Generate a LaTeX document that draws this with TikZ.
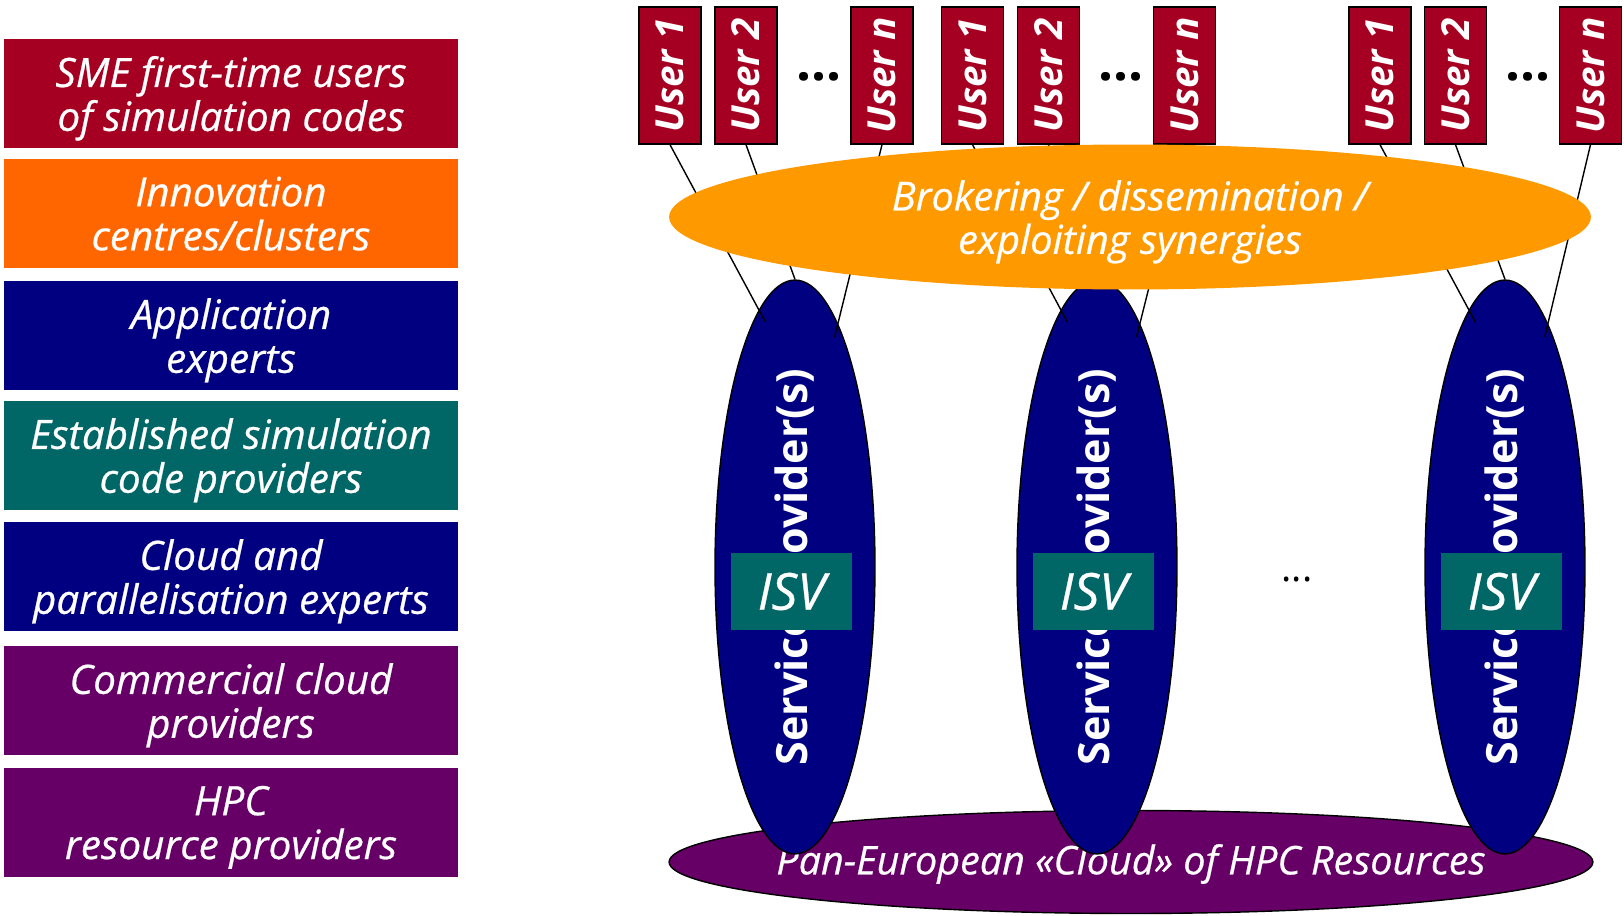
\documentclass[tikz,border=0pt]{standalone}
\usepackage{fontspec}
\setmainfont{Open Sans}[ItalicFeatures={FakeBold=0.6}]
\usetikzlibrary{shapes.geometric}

\definecolor{smered}{HTML}{A50021}
\definecolor{innoorange}{HTML}{FF6600}
\definecolor{appnavy}{HTML}{000080}
\definecolor{codeteal}{HTML}{006666}
\definecolor{hpcpurple}{HTML}{660066}
\definecolor{brokerorange}{HTML}{FF9900}

\tikzset{
	groupbox/.style={fill=#1, text=white, minimum width=9.08cm, minimum height=2.18cm, inner sep=0pt, align=center, text depth=0pt, font=\fontsize{23}{25}\selectfont\itshape},
	userbox/.style={draw=black, line width=0.8pt, fill=smered, text=white, minimum width=1.24cm, minimum height=2.74cm, inner sep=0pt, font=\fontsize{22}{24}\selectfont\bfseries\itshape},
	spellipse/.style={ellipse, draw=black, line width=0.8pt, fill=appnavy, minimum width=3.2cm, minimum height=11.48cm, inner sep=0pt},
	isvbox/.style={fill=codeteal, text=white, minimum width=2.42cm, minimum height=1.54cm, inner sep=0pt, font=\fontsize{29}{30}\selectfont\itshape},
	userdots/.style={inner sep=0pt, font=\fontsize{30}{30}\selectfont\bfseries},
	link/.style={line width=0.8pt}
}

\begin{document}
\begin{tikzpicture}[x=0.02cm, y=-0.02cm]
	\useasboundingbox (0,0) rectangle (1624,916);
	% the seven groups
	\node[groupbox=smered] (sme) at (231,93.5) {SME first-time users\\of simulation codes};
	\node[groupbox=innoorange] (inno) at (231,213.5) {Innovation\\centres/clusters};
	\node[groupbox=appnavy] (app) at (231,335.5) {Application\\experts};
	\node[groupbox=codeteal] (codes) at (231,455.5) {Established simulation\\code providers};
	\node[groupbox=appnavy] (par) at (231,576.5) {Cloud and\\parallelisation experts};
	\node[groupbox=hpcpurple] (comm) at (231,700.5) {Commercial cloud\\providers};
	\node[groupbox=hpcpurple] (hpc) at (231,822.5) {HPC\\resource providers};
	% cloud of resources
	\node[ellipse, draw=black, line width=0.8pt, fill=hpcpurple, minimum width=18.48cm, minimum height=2.06cm, inner sep=0pt] (pan) at (1131,862) {};
	\node[text=white, font=\fontsize{22.5}{24}\selectfont\itshape] (pan-label) at (1131,864) {Pan-European «Cloud» of HPC Resources};
	% service providers
	\foreach \g/\x in {1/795,2/1097,3/1505} {
		\node[spellipse] (sp\g) at (\x,567) {};
		\node[text=white, rotate=90, font=\fontsize{24.5}{26}\selectfont\bfseries] (sp\g-label) at (sp\g) {Service Provider(s)};
	}
	\node[isvbox] (isv1) at (791.5,591.5) {ISV};
	\node[isvbox] (isv2) at (1093.5,591.5) {ISV};
	\node[isvbox] (isv3) at (1501.5,591.5) {ISV};
	\node[inner sep=0pt, font=\fontsize{22}{24}\selectfont] (middots) at (1297,579) {...};
	% users
	\foreach \g/\a/\b/\n/\d in {1/670/746/882/819, 2/972.5/1048.5/1184.5/1121, 3/1380/1455.5/1590.5/1528} {
		\node[userbox] (u\g-1) at (\a,75.5) {\rotatebox{90}{User 1}};
		\node[userbox] (u\g-2) at (\b,75.5) {\rotatebox{90}{User 2}};
		\node[userbox] (u\g-n) at (\n,75.5) {\rotatebox{90}{User n}};
		\node[userdots] (dots\g) at (\d,76.5) {...};
	}
	\foreach \g in {1,2,3} {
		\draw[link, shorten >=-8pt] (u\g-1.south) -- (sp\g.98);
		\draw[link] (u\g-2.south) -- (sp\g.north);
		\draw[link, shorten >=-8pt] (u\g-n.south) -- (sp\g.80);
	}
	% brokering layer
	\node[ellipse, fill=brokerorange, minimum width=18.44cm, minimum height=2.9cm, inner sep=0pt, text=white, align=center, text depth=0pt, font=\fontsize{22.7}{24.7}\selectfont\itshape] (broker) at (1130,217) {Brokering / dissemination /\\exploiting synergies};
\end{tikzpicture}
\end{document}
